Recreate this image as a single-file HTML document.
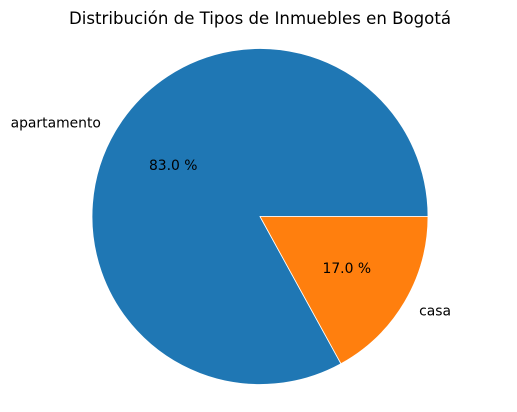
<!DOCTYPE html>
<html>
<head>
<meta charset="utf-8">
<style>
  html, body { margin: 0; padding: 0; background: #fff; }
  svg { display: block; }
  text { font-family: "DejaVu Sans", "Liberation Sans", sans-serif; fill: #000; }
</style>
</head>
<body>
<svg id="chart" width="517" height="412" viewBox="0 0 517 412">
  <text x="260" y="24" text-anchor="middle" font-size="16.6">Distribución de Tipos de Inmuebles en Bogotá</text>
  <g id="slices"></g>
  <g id="labels"></g>
</svg>
<script>
const categories = ["apartamento", "casa"];
const values = [83.0, 17.0];
const pctLabels = ["83.0 %", "17.0 %"];
const colors = ["#1f77b4", "#ff7f0e"];

const cx = 260, cy = 216.5, r = 168;
const NS = "http://www.w3.org/2000/svg";
const slicesG = document.getElementById("slices");
const labelsG = document.getElementById("labels");
const total = values.reduce((a, b) => a + b, 0);
function pt(angDeg, rad) {
  const a = angDeg * Math.PI / 180;
  return [cx + rad * Math.cos(a), cy - rad * Math.sin(a)];
}
let start = 0;
values.forEach((v, i) => {
  const sweep = v / total * 360;
  const end = start + sweep;
  const [x1, y1] = pt(start, r);
  const [x2, y2] = pt(end, r);
  const large = sweep > 180 ? 1 : 0;
  const path = document.createElementNS(NS, "path");
  path.setAttribute("d", `M${cx},${cy} L${x1},${y1} A${r},${r} 0 ${large} 0 ${x2},${y2} Z`);
  path.setAttribute("fill", colors[i]);
  path.setAttribute("stroke", "#fff");
  path.setAttribute("stroke-width", "0.8");
  path.setAttribute("stroke-linejoin", "round");
  
  
  slicesG.appendChild(path);

  const mid = start + sweep / 2;
  const [lx, ly] = pt(mid, r * 1.1);
  const lab = document.createElementNS(NS, "text");
  lab.setAttribute("x", lx);
  lab.setAttribute("y", ly + 5);
  lab.setAttribute("font-size", "13.9");
  lab.setAttribute("text-anchor", Math.cos(mid * Math.PI / 180) < 0 ? "end" : "start");
  lab.textContent = categories[i];
  
  
  labelsG.appendChild(lab);

  const [px, py] = pt(mid, r * 0.6);
  const pl = document.createElementNS(NS, "text");
  pl.setAttribute("x", px);
  pl.setAttribute("y", py + 5);
  pl.setAttribute("font-size", "13.9");
  pl.setAttribute("text-anchor", "middle");
  pl.textContent = pctLabels[i];
  
  
  labelsG.appendChild(pl);

  start = end;
});
</script>
</body>
</html>
